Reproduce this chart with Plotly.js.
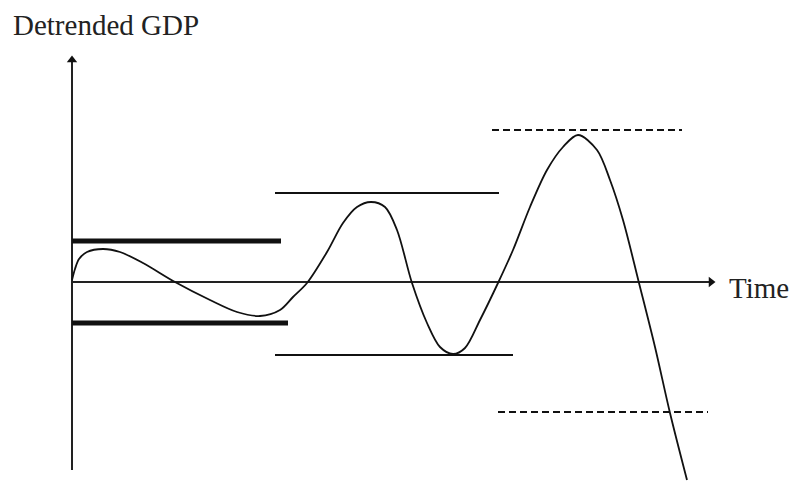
<!DOCTYPE html>
<html>
<head>
<meta charset="utf-8">
<script src="https://cdn.plot.ly/plotly-3.0.1.min.js"></script>
<style>
  html, body { margin: 0; padding: 0; background: #ffffff; }
  #chart { width: 790px; height: 481px; }
</style>
</head>
<body>
<div id="chart"></div>
<script>
// schematic business cycle: time vs detrended GDP (units)
var cycleT = [0, 3, 7, 15, 31, 48, 71, 103, 138, 165, 188, 208, 221, 235, 255, 271, 285, 299,
              313, 325, 340, 355, 368, 381, 393, 408, 426, 441, 458, 475, 491, 506, 525, 538,
              551, 567, 583, 598, 615];
var cycleGdp = [2, 13, 23, 30, 33, 30, 19, 0, -18, -30, -34, -28, -15, -1, 30, 59, 75, 80,
                75, 52, -1, -41, -65, -72, -66, -38, -1, 32, 75, 112, 135, 147, 132, 102,
                62, -1, -65, -131, -198];

// band limits: [tStart, tEnd, level]
var thickBands = [[0, 209, 41], [0, 216, -41]];
var thinBands = [[203, 427, 89], [203, 441, -73]];
var dashedBands = [[420, 610, 152], [426, 636, -130]];

var yAxisSpan = [-188, 222];
var xAxisEnd = 643;

var data = [];

function addBands(bands, width, dash) {
    for (var i = 0; i < bands.length; i++) {
        data.push({
            x: [bands[i][0], bands[i][1]],
            y: [bands[i][2], bands[i][2]],
            mode: 'lines',
            line: {color: '#111111', width: width, dash: dash},
            hoverinfo: 'skip'
        });
    }
}

// axes drawn as lines with arrow tips
data.push({
    x: [0, 0], y: yAxisSpan, mode: 'lines',
    line: {color: '#222222', width: 2}, hoverinfo: 'skip'
});
data.push({
    x: [0, xAxisEnd - 6], y: [0, 0], mode: 'lines',
    line: {color: '#222222', width: 2}, hoverinfo: 'skip'
});
data.push({
    x: [0], y: [yAxisSpan[1]], mode: 'markers',
    marker: {symbol: 'triangle-up', size: 9, color: '#111111'}, hoverinfo: 'skip'
});
data.push({
    x: [xAxisEnd - 4], y: [0], mode: 'markers',
    marker: {symbol: 'triangle-right', size: 9, color: '#111111'}, hoverinfo: 'skip'
});

addBands(thickBands, 5, 'solid');
addBands(thinBands, 2, 'solid');
addBands(dashedBands, 2, '7px,4px');

data.push({
    x: cycleT,
    y: cycleGdp,
    mode: 'lines',
    line: {color: '#111111', width: 1.8, shape: 'spline', smoothing: 0.9},
    hoverinfo: 'skip'
});

var layout = {
    width: 790,
    height: 481,
    margin: {l: 0, r: 0, t: 0, b: 0, pad: 0},
    paper_bgcolor: '#ffffff',
    plot_bgcolor: '#ffffff',
    showlegend: false,
    xaxis: {range: [-72, 718], visible: false, fixedrange: true},
    yaxis: {range: [-199, 282], visible: false, fixedrange: true},
    annotations: [
        {
            text: 'Detrended GDP', x: -61, y: 257, xanchor: 'left', yanchor: 'middle',
            showarrow: false,
            font: {family: 'Liberation Serif, Times New Roman, serif', size: 29, color: '#222222'}
        },
        {
            text: 'Time', x: 655, y: -6, xanchor: 'left', yanchor: 'middle',
            showarrow: false,
            font: {family: 'Liberation Serif, Times New Roman, serif', size: 29, color: '#222222'}
        }
    ]
};

Plotly.newPlot('chart', data, layout, {displayModeBar: false, staticPlot: true});
</script>
</body>
</html>
